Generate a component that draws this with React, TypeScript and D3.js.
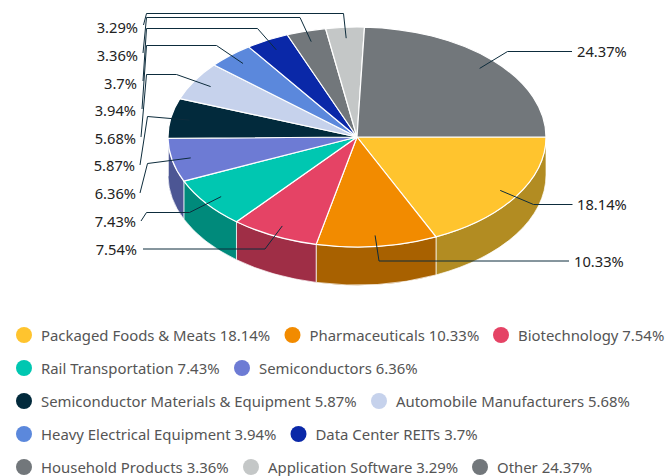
import React from "react";
import * as d3 from "d3";

const categories = ["Packaged Foods & Meats","Pharmaceuticals","Biotechnology","Rail Transportation","Semiconductors","Semiconductor Materials & Equipment","Automobile Manufacturers","Heavy Electrical Equipment","Data Center REITs","Household Products","Application Software","Other"];
const values = [18.14,10.33,7.54,7.43,6.36,5.87,5.68,3.94,3.7,3.36,3.29,24.37];
const colors = ["#FFC42E","#F28B00","#E54365","#00C7B1","#6D7BD4","#022A3C","#C6D2EC","#5B88DC","#0A28A8","#72777B","#C4C7C7","#72777B"];
const wallColors = ["#B28C22","#A86100","#9F2E46","#008A7B","#4C5694","#022A3C","#C6D2EC","#5B88DC","#0A28A8","#72777B","#C4C7C7","#72777B"];

// layout of the leader lines: elbow points then label end, per slice
const leaders: [number, number][][] = [
  [[533.5,204.5],[572.5,204.5]],
  [[379,261],[569,261]],
  [[265,249],[143,249]],
  [[189.5,212.5],[146.5,212.5],[141,221]],
  [[147.5,163.5],[140,193]],
  [[147.5,116.5],[140,165]],
  [[176.5,74.5],[146.5,74.5],[141,137]],
  [[216.5,45.5],[146.5,45.5],[142,109]],
  [[257.5,28.5],[146.5,28.5],[143,81]],
  [[300,17.5],[146.5,17.5],[143,53]],
  [[343.5,13.5],[146.5,13.5],[143.5,25]],
  [[507.5,51.5],[572,51.5]],
];
const labelPos: [number, number, string][] = [
  [577,204.5,"start"],[574,261.5,"start"],[137,249.5,"end"],[136,221.5,"end"],[136,193.5,"end"],[135,165.5,"end"],[136,138.5,"end"],[136,110.5,"end"],[137,83.5,"end"],[138,55.5,"end"],[138,27.5,"end"],[577,51.5,"start"],
];
const legendRows: [number, number][][] = [
  [[0,24],[1,292.5],[2,501]],
  [[3,24],[4,242]],
  [[5,24],[6,379]],
  [[7,24],[8,298.5]],
  [[9,24],[10,251],[11,480]],
];

const cx = 357, cy = 137, rx = 189, ry = 110, depth = 38;
const FONT = "'Noto Sans', sans-serif";

const px = (a: number, r = 1) => cx + rx * r * Math.sin(a);
const py = (a: number, r = 1) => cy - ry * r * Math.cos(a);

export default function App() {
  const arcs = d3.pie<number>().sort(null).startAngle(Math.PI / 2).endAngle(Math.PI / 2 + 2 * Math.PI)(values);
  const legendY = d3.scaleLinear().domain([0, 4]).range([335, 467]);

  const top = (a0: number, a1: number) =>
    `M${cx},${cy}L${px(a0)},${py(a0)}A${rx},${ry} 0 ${a1 - a0 > Math.PI ? 1 : 0} 1 ${px(a1)},${py(a1)}Z`;
  const wall = (a0: number, a1: number) =>
    `M${px(a0)},${py(a0)}A${rx},${ry} 0 0 1 ${px(a1)},${py(a1)}L${px(a1)},${py(a1) + depth}A${rx},${ry} 0 0 0 ${px(a0)},${py(a0) + depth}Z`;

  const frontEnd = Math.PI * 1.5;
  return (
    <svg width={665} height={476} style={{ position: "absolute", left: 0, top: 0 }} fontFamily={FONT}>
      {arcs.map((d, i) =>
        d.startAngle < frontEnd ? (
          <path key={i} d={wall(d.startAngle, Math.min(d.endAngle, frontEnd))} fill={wallColors[i]} stroke="#fff" strokeOpacity={0.7} strokeWidth={1} />
        ) : null
      )}
      {arcs.map((d, i) => (
        <path key={i} d={top(d.startAngle, d.endAngle)} fill={colors[i]} stroke="#fff" strokeWidth={1.2} strokeLinejoin="round" />
      ))}
      {arcs.map((d, i) => {
        const mid = (d.startAngle + d.endAngle) / 2;
        const line = d3.line()([[px(mid, 0.9), py(mid, 0.9)], ...leaders[i]]) as string;
        return <path key={i} d={line} fill="none" stroke="#0D2C3C" strokeWidth={1} />;
      })}
      {values.map((v, i) => (
        <text key={i} x={labelPos[i][0]} y={labelPos[i][1]} dy="0.35em" fontSize={14.7} fill="#222" textAnchor={labelPos[i][2]}>
          {v}%
        </text>
      ))}
      {legendRows.map((row, r) =>
        row.map(([i, x]) => (
          <g key={i}>
            <circle cx={x} cy={legendY(r)} r={8} fill={colors[i]} />
            <text x={x + 17} y={legendY(r) + 0.5} dy="0.35em" fontSize={14.9} fill="#555">
              {categories[i]} {values[i]}%
            </text>
          </g>
        ))
      )}
    </svg>
  );
}
